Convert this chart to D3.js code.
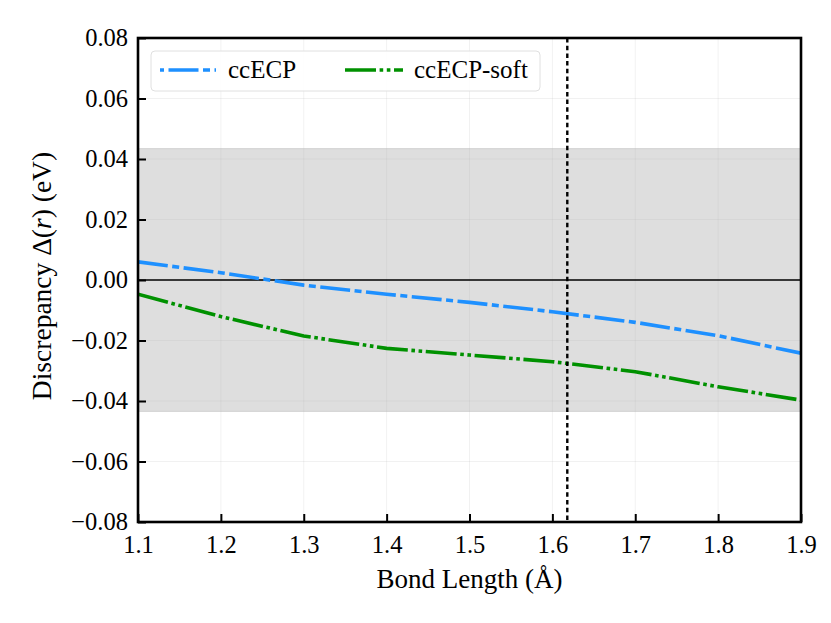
<!DOCTYPE html>
<html>
<head>
<meta charset="utf-8">
<script src="https://cdn.jsdelivr.net/npm/d3@7"></script>
<style>
  html, body { margin: 0; padding: 0; background: #fff; }
  svg { display: block; }
  text { font-family: "Liberation Serif", "Times New Roman", Tinos, "Noto Serif", "DejaVu Serif", FreeSerif, Times, serif; fill: #000; }
</style>
</head>
<body>
<svg id="chart" width="831" height="623"></svg>
<script>
// ---- Data ----
const bondLengths = [1.1, 1.2, 1.3, 1.4, 1.5, 1.6, 1.7, 1.8, 1.9];
const ccECP      = [0.0060, 0.0024, -0.0017, -0.0047, -0.0074, -0.0105, -0.0140, -0.0184, -0.0242];
const ccECPsoft  = [-0.0047, -0.0121, -0.0185, -0.0226, -0.0248, -0.0270, -0.0303, -0.0353, -0.0397];
const seriesNames = ["ccECP", "ccECP-soft"];
const xTicks = [1.1, 1.2, 1.3, 1.4, 1.5, 1.6, 1.7, 1.8, 1.9];
const yTicks = [-0.08, -0.06, -0.04, -0.02, 0.00, 0.02, 0.04, 0.06, 0.08];
const chemAccuracy = 0.0434;   // shaded band ±
const equilibrium = 1.618;     // vertical dotted line
const xDomain = [1.1, 1.9];
const yDomain = [-0.08, 0.08];

// ---- Layout ----
const svg = d3.select("#chart");
const L = 138, R = 801, T = 38, B = 522;
const x = d3.scaleLinear().domain(xDomain).range([L, R]);
const y = d3.scaleLinear().domain(yDomain).range([B, T]);
const fmtY = v => (v < 0 ? "\u2212" : "") + Math.abs(v).toFixed(2);
const fmtX = v => v.toFixed(1);

const clipId = "plotclip";
svg.append("defs").append("clipPath").attr("id", clipId)
  .append("rect").attr("x", L).attr("y", T).attr("width", R - L).attr("height", B - T);

const plot = svg.append("g").attr("clip-path", `url(#${clipId})`);

// band
plot.append("rect")
  .attr("x", L).attr("width", R - L)
  .attr("y", y(chemAccuracy)).attr("height", y(-chemAccuracy) - y(chemAccuracy))
  .attr("fill", "#dedede").attr("stroke", "#cfcfcf").attr("stroke-width", 1);

// grid
plot.append("g").selectAll("line").data(xTicks).join("line")
  .attr("x1", d => x(d)).attr("x2", d => x(d)).attr("y1", T).attr("y2", B)
  .attr("stroke", "#b0b0b0").attr("stroke-opacity", 0.18).attr("stroke-width", 1);
plot.append("g").selectAll("line").data(yTicks).join("line")
  .attr("y1", d => y(d)).attr("y2", d => y(d)).attr("x1", L).attr("x2", R)
  .attr("stroke", "#b0b0b0").attr("stroke-opacity", 0.18).attr("stroke-width", 1);

// zero line
plot.append("line").attr("x1", L).attr("x2", R).attr("y1", y(0)).attr("y2", y(0))
  .attr("stroke", "#000").attr("stroke-width", 1.3);

// series
const series = [
  { name: seriesNames[0], values: ccECP, color: "#1e90ff", dash: "30,4.5,7,4.5" },
  { name: seriesNames[1], values: ccECPsoft, color: "#009100", dash: "31,3.6,3.6,3.6,3.6,3.6" }
];
const line = d3.line().x((d, i) => x(bondLengths[i])).y(d => y(d));
series.forEach(s => {
  plot.append("path").datum(s.values)
    .attr("d", line).attr("fill", "none")
    .attr("stroke", s.color).attr("stroke-width", 3.6)
    .attr("stroke-dasharray", s.dash);
});

// vertical dotted line
plot.append("line").attr("x1", x(equilibrium)).attr("x2", x(equilibrium))
  .attr("y1", T).attr("y2", B)
  .attr("stroke", "#000").attr("stroke-width", 2.4).attr("stroke-dasharray", "4.5,3.2");

// axes ticks (inward)
const xAxis = d3.axisBottom(x).tickValues(xTicks).tickFormat(fmtX).tickSize(-8).tickPadding(14);
const yAxis = d3.axisLeft(y).tickValues(yTicks).tickFormat(fmtY).tickSize(-8).tickPadding(10);
const gx = svg.append("g").attr("transform", `translate(0,${B})`).call(xAxis);
const gy = svg.append("g").attr("transform", `translate(${L},0)`).call(yAxis);
[gx, gy].forEach(g => {
  g.attr("font-family", null);
  g.select(".domain").remove();
  g.selectAll(".tick line").attr("stroke", "#000").attr("stroke-width", 2);
  g.selectAll(".tick text").attr("font-size", 24.5).attr("fill", "#000");
});

// frame
svg.append("rect").attr("x", L).attr("y", T).attr("width", R - L).attr("height", B - T)
  .attr("fill", "none").attr("stroke", "#000").attr("stroke-width", 2.6);

// axis labels
svg.append("text").attr("x", (L + R) / 2).attr("y", 588)
  .attr("text-anchor", "middle").attr("font-size", 27).text("Bond Length (Å)");

const yl = svg.append("text")
  .attr("transform", `translate(51,${(T + B) / 2 - 4}) rotate(-90)`)
  .attr("text-anchor", "middle").attr("font-size", 27.5);
yl.append("tspan").text("Discrepancy \u0394(");
yl.append("tspan").attr("font-style", "italic").text("r");
yl.append("tspan").text(") (eV)");

// legend
const lg = svg.append("g");
lg.append("rect").attr("x", 151).attr("y", 51).attr("width", 389).attr("height", 40)
  .attr("rx", 4).attr("fill", "#fff").attr("fill-opacity", 0.85)
  .attr("stroke", "#e0e0e0").attr("stroke-width", 1);
const legendItems = [
  { s: series[0], x0: 160, x1: 216, tx: 228, offset: 37.5 },
  { s: series[1], x0: 345, x1: 403, tx: 414, offset: 0 }
];
legendItems.forEach(it => {
  lg.append("line").attr("x1", it.x0).attr("x2", it.x1).attr("y1", 70).attr("y2", 70)
    .attr("stroke", it.s.color).attr("stroke-width", 3.6)
    .attr("stroke-dasharray", it.s.dash).attr("stroke-dashoffset", it.offset);
  lg.append("text").attr("x", it.tx).attr("y", 78).attr("font-size", 25).text(it.s.name);
});
</script>
</body>
</html>
